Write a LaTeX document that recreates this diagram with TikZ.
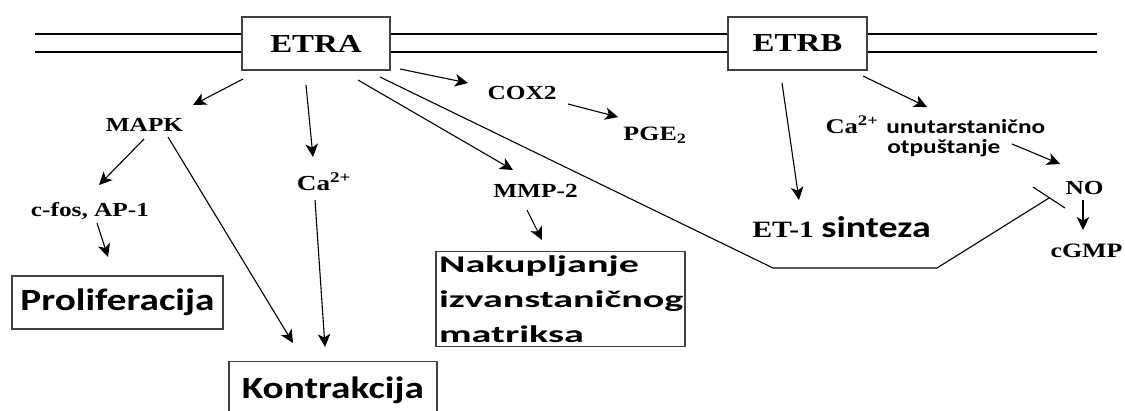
\documentclass[tikz,border=0pt]{standalone}
\usepackage{fontspec}
\setmainfont{Liberation Serif}
\newfontfamily\carl{Carlito}
\usetikzlibrary{arrows.meta,calc}
\begin{document}
\begin{tikzpicture}[x=1bp,y=-1bp,
  every node/.style={inner sep=0pt, xscale=1.27},
  sr/.style={font=\bfseries\fontsize{#1}{#1}\selectfont},
  sn/.style={font=\carl\bfseries\fontsize{#1}{#1}\selectfont},
  box/.style={draw=black!75, line width=1.4bp},
  arr/.style={-{Stealth[length=13bp,width=12.5bp,inset=3.5bp]}, line width=1.1bp},
  ln/.style={line width=1.1bp}]
\useasboundingbox (0,0) rectangle (1125,410);
\fill[white] (0,0) rectangle (1125,410);
\clip (0,0) rectangle (1125,410);

% receptors
\node[box, sr=26, minimum width=116.5bp, minimum height=53bp] (etra) at (316,43.5) {ETRA};
\node[box, sr=26, minimum width=109.4bp, minimum height=53bp] (etrb) at (797.5,43.5) {ETRB};

% membrane
\coordinate (l1) at (35,34); \coordinate (l2) at (35,52);
\coordinate (r1) at (1097,34); \coordinate (r2) at (1097,52);
\draw[ln] (l1) -- (l1 -| etra.west);
\draw[ln] (l2) -- (l2 -| etra.west);
\draw[ln] (etra.east |- l1) -- (etrb.west |- l1);
\draw[ln] (etra.east |- l2) -- (etrb.west |- l2);
\draw[ln] (etrb.east |- r1) -- (r1);
\draw[ln] (etrb.east |- r2) -- (r2);

% text nodes
\node[sr=20, anchor=base] (mapk) at (144.5,131) {MAPK};
\node[sr=20, anchor=base] (cfos) at (90,216) {c-fos, AP-1};
\node[sr=21.5, anchor=base] (ca1) at (324,190) {Ca\textsuperscript{2+}};
\node[sr=20, anchor=base] (cox2) at (522,99) {COX2};
\node[sr=20.5, anchor=base] (pge2) at (655,140) {PGE\textsubscript{2}};
\node[sr=20, anchor=base] (mmp2) at (535.5,197) {MMP-2};
\node[sr=23.5, anchor=base] (et1) at (841.5,237) {ET-1 {\carl\fontsize{30}{30}\selectfont sinteza}};
\node[sr=21, anchor=base] (ca2) at (852,133) {Ca\textsuperscript{2+}};
\node[sn=20, anchor=base west] (ut1) at (886,133) {unutarstanično};
\node[sn=20, anchor=base west] (ut2) at (887,153) {otpuštanje};
\node[sr=20, anchor=base] (no) at (1084.5,194) {NO};
\node[sr=20.5, anchor=base] (cgmp) at (1086.5,257) {cGMP};

% outcome boxes
\node[box, sn=31, minimum width=166bp, minimum height=53bp] (prolif) at (117.5,302.5) {Proliferacija};
\node[box, sn=31, anchor=north west, minimum width=163.8bp, inner ysep=16bp,
      text height=21bp, text depth=7bp] (kontr) at (228,361) {Kontrakcija};
\node[box, font=\carl\bfseries\fontsize{24}{35.5}\selectfont, anchor=north west, xscale=1.32,
      text width=145bp, align=left, inner xsep=1.75bp, inner ysep=1bp, minimum height=95bp]
      (nak) at (435,251) {Nakupljanje\\izvanstaničnog\\matriksa};

% trough coordinates
\coordinate (t1) at (773,268);
\coordinate (t2) at (937,268);

% connectors
\draw[arr] ($(etra.center)+(-73,35.5)$) -- ($(mapk.base)+(48.5,-26)$);
\draw[arr] ($(mapk.base)+(-0.5,8)$) -- ($(cfos.base)+(9,-31)$);
\draw[arr] ($(cfos.base)+(7,7)$) -- ($(prolif.center)+(-9.5,-45.5)$);
\draw[arr] ($(mapk.base)+(23.5,6)$) -- ($(kontr.north west)+(65,-18)$);
\draw[arr] ($(etra.center)+(-10,41.5)$) -- ($(ca1.base)+(-11,-33)$);
\draw[arr] ($(ca1.base)+(-9,10)$) -- ($(kontr.north west)+(97,-14)$);
\draw[arr] ($(etra.center)+(84,25.5)$) -- ($(cox2.base)+(-54,-16)$);
\draw[arr] ($(cox2.base)+(46,5)$) -- ($(pge2.base)+(-37,-23)$);
\draw[arr] ($(etra.center)+(42,36.5)$) -- ($(mmp2.base)+(-22.5,-27)$);
\draw[arr] ($(mmp2.base)+(-8.5,13)$) -- ($(nak.north west)+(107,-11)$);
\draw[ln] ($(etra.center)+(64,33.5)$) -- (t1) -- (t2) -- ($(no.base)+(-35.5,4)$);
\draw[ln] ($(no.base)+(-51.5,-7)$) -- ($(no.base)+(-19.5,14)$);
\draw[arr] ($(etrb.center)+(-15.5,39.5)$) -- ($(et1.base)+(-42.5,-37)$);
\draw[arr] ($(etrb.center)+(65.5,32.5)$) -- ($(ca2.base)+(75,-26)$);
\draw[arr] ($(ut2.base west)+(125,-9)$) -- ($(no.base)+(-24.5,-30)$);
\draw[arr] ($(no.base)+(-1.5,6)$) -- ($(cgmp.base)+(-3.5,-27)$);
\end{tikzpicture}
\end{document}
